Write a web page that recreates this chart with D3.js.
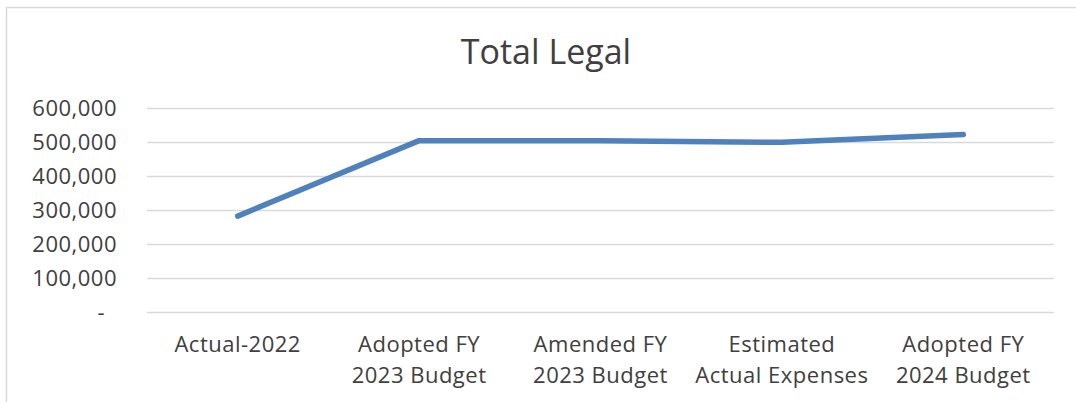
<!DOCTYPE html>
<html><head><meta charset="utf-8">
<script src="https://cdn.jsdelivr.net/npm/d3@7"></script>
<style>html,body{margin:0;padding:0;background:#fff;}svg{display:block;}</style>
</head><body>
<svg id="chart" width="1076" height="402"></svg>
<script>
const title = "Total Legal";
const categories = [
  ["Actual-2022"],
  ["Adopted FY", "2023 Budget"],
  ["Amended FY", "2023 Budget"],
  ["Estimated", "Actual Expenses"],
  ["Adopted FY", "2024 Budget"]
];
const values = [282000, 504000, 504000, 499000, 522000];
const yTicks = [0, 100000, 200000, 300000, 400000, 500000, 600000];

const W = 1076, H = 402;
const svg = d3.select("#chart");
const font = "'Open Sans', sans-serif";
const textColor = "#404040";

svg.append("rect").attr("x", 6.5).attr("y", 7.5).attr("width", 1100).attr("height", 420)
  .attr("fill", "#fff").attr("stroke", "#d9d9d9").attr("stroke-width", 1.5);

const m = {left: 147, right: 1054, top: 108, bottom: 312};
const x = d3.scaleBand().domain(d3.range(categories.length)).range([m.left, m.right]);
const y = d3.scaleLinear().domain([0, 600000]).range([m.bottom, m.top]);

svg.append("text").attr("x", 546).attr("y", 64).attr("text-anchor", "middle")
  .attr("font-family", font).attr("font-size", 34).attr("fill", textColor).text(title);

const yAxis = d3.axisLeft(y).tickValues(yTicks)
  .tickFormat(d => d === 0 ? "-" : d3.format(",")(d))
  .tickSize(-(m.right - m.left)).tickPadding(30);
const gy = svg.append("g").attr("transform", `translate(${m.left},0)`).call(yAxis);
gy.select(".domain").remove();
gy.selectAll(".tick line").attr("stroke", "#d9d9d9").attr("stroke-width", 1.5);
gy.selectAll(".tick text").attr("font-family", font).attr("font-size", 22)
  .attr("letter-spacing", 0.5)
  .attr("fill", textColor).attr("dy", "0.35em")
  .attr("dx", d => d === 0 ? -12 : 0);

const gx = svg.append("g");
categories.forEach((lines, i) => {
  const t = gx.append("text").attr("x", x(i) + x.bandwidth() / 2).attr("y", 352)
    .attr("text-anchor", "middle").attr("font-family", font).attr("font-size", 22)
    .attr("letter-spacing", 0.5).attr("fill", textColor);
  lines.forEach((l, j) => t.append("tspan").attr("x", x(i) + x.bandwidth() / 2)
    .attr("dy", j === 0 ? 0 : 31).text(l));
});

const line = d3.line().x((d, i) => x(i) + x.bandwidth() / 2).y(d => y(d));
svg.append("path").datum(values).attr("d", line).attr("fill", "none")
  .attr("stroke", "#4f81bd").attr("stroke-width", 5.5)
  .attr("stroke-linecap", "round").attr("stroke-linejoin", "round");
</script>
</body></html>
